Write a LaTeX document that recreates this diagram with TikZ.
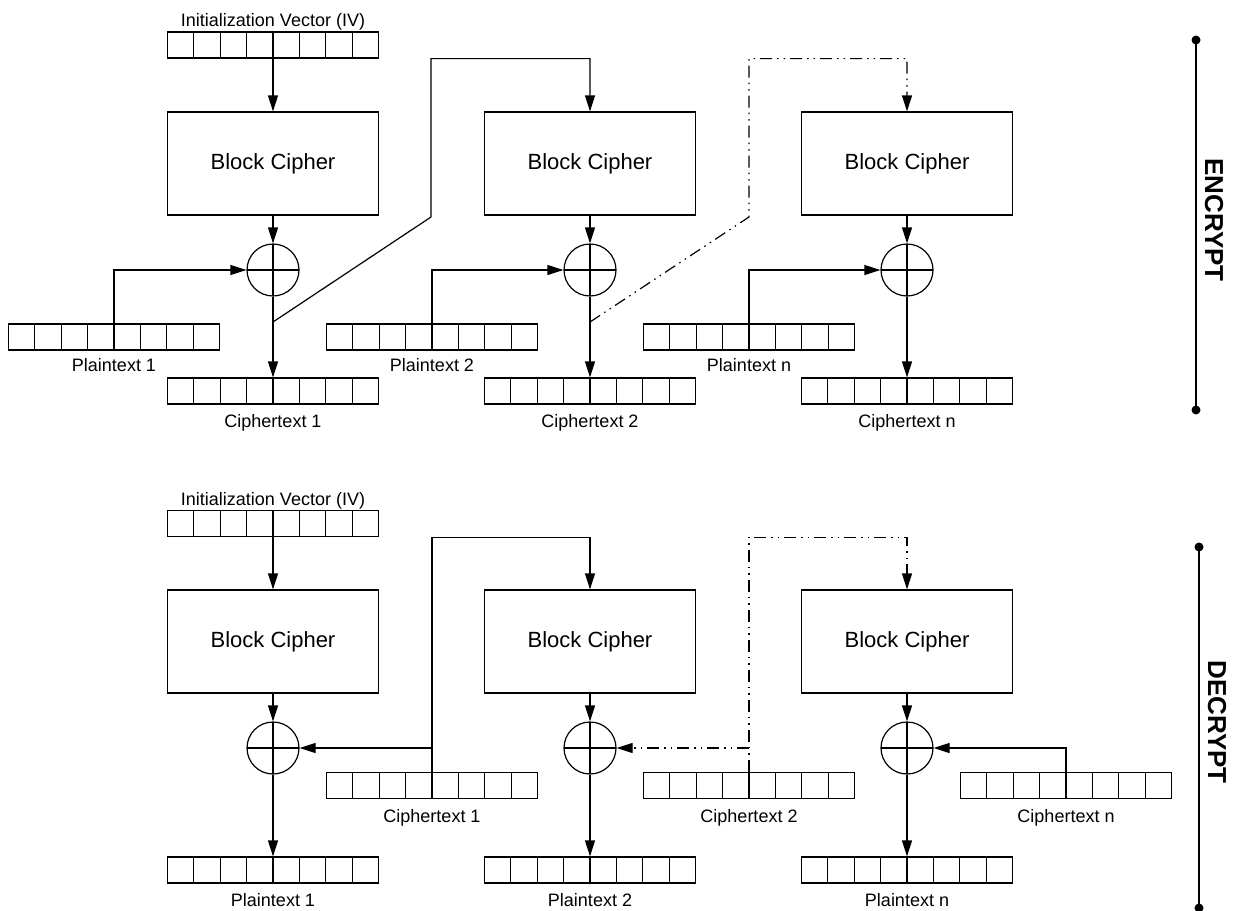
\documentclass[tikz,border=0pt]{standalone}
\usepackage{fontspec}
\setmainfont{Liberation Sans}
\usetikzlibrary{arrows.meta}

\tikzset{
  register/.style={draw, minimum width=211pt, minimum height=26pt, inner sep=0pt,
    path picture={\foreach \k in {1,...,7}
      \draw ([xshift=\k*26.375pt]path picture bounding box.north west) -- ([xshift=\k*26.375pt]path picture bounding box.south west);}},
  cipher/.style={draw, minimum width=211pt, minimum height=103pt, inner sep=0pt, font=\fontsize{22}{26}\selectfont},
  xor/.style={draw, circle, minimum size=52pt, inner sep=0pt,
    path picture={\draw (path picture bounding box.north) -- (path picture bounding box.south)
      (path picture bounding box.west) -- (path picture bounding box.east);}},
  lbl/.style={anchor=base, inner sep=0pt, font=\fontsize{18}{20}\selectfont},
  feedback/.style={dash pattern=on 12pt off 5pt on 1.5pt off 5pt on 1.5pt off 5pt},
  sidelabel/.style={inner sep=0pt, rotate=-90, font=\bfseries\fontsize{26}{28}\selectfont},
}

\begin{document}
\begin{tikzpicture}[x=1pt, y=-1pt, line width=1.2pt, >={Triangle[length=16pt,width=10pt]}]
  \useasboundingbox (0,0) rectangle (1238,910);

  % Encrypt: IV and blocks
  \node[lbl] (ivElbl) at (273,27) {Initialization Vector (IV)};
  \node[register] (ivE) at (273,45) {};
  \foreach \i/\x/\p/\t in {1/273/114/1, 2/590/432/2, 3/907/749/n} {
    \node[cipher] (bcE\i) at (\x,163.5) {Block Cipher};
    \node[xor] (xE\i) at (\x,270) {};
    \node[register] (ptE\i) at (\p,337) {};
    \node[lbl] (ptElbl\i) at (\p,371) {Plaintext \t};
    \node[register] (ctE\i) at (\x,391) {};
    \node[lbl] (ctElbl\i) at (\x,427) {Ciphertext \t};
  }
  % Encrypt: arrows
  \draw[->] (ivE) -- (bcE1);
  \foreach \i in {1,2,3} {
    \draw[->] (bcE\i) -- (xE\i);
    \draw[->] (xE\i) -- (ctE\i);
    \draw[->] (ptE\i.north) |- (xE\i.west);
  }
  % Encrypt: chaining
  \coordinate (tapE1) at (273,322);
  \coordinate (bendE1) at (431,217);
  \draw[->] (tapE1) -- (bendE1) -- (bendE1 |- ivE.south) -| (bcE2.north);
  \coordinate (tapE2) at (590,322);
  \coordinate (bendE2) at (749,217);
  \draw[->, feedback] (tapE2) -- (bendE2) -- (bendE2 |- ivE.south) -| (bcE3.north);

  % Decrypt: IV and blocks
  \node[lbl] (ivDlbl) at (273,505) {Initialization Vector (IV)};
  \node[register] (ivD) at (273,523.5) {};
  \foreach \i/\x/\c/\t in {1/273/432/1, 2/590/749/2, 3/907/1066/n} {
    \node[cipher] (bcD\i) at (\x,641.5) {Block Cipher};
    \node[xor] (xD\i) at (\x,748) {};
    \node[register] (ctD\i) at (\c,785.5) {};
    \node[lbl] (ctDlbl\i) at (\c,822) {Ciphertext \t};
    \node[register] (ptD\i) at (\x,870) {};
    \node[lbl] (ptDlbl\i) at (\x,906) {Plaintext \t};
  }
  % Decrypt: arrows
  \draw[->] (ivD) -- (bcD1);
  \foreach \i in {1,2,3} {
    \draw[->] (bcD\i) -- (xD\i);
    \draw[->] (xD\i) -- (ptD\i);
  }
  % Decrypt: chaining
  \draw[->] (ctD1.north) |- (xD1.east);
  \draw[->] (ctD1.north) -- (ctD1.north |- ivD.south) -| (bcD2.north);
  \coordinate (jD2) at (ctD2.north |- xD2.east);
  \draw[->, feedback] (ctD2.north) -- (ctD2.north |- ivD.south) -| (bcD3.north);
  \draw[->, feedback] (jD2) -- (xD2.east);
  \draw[->] (ctD3.north) |- (xD3.east);

  % Side bars
  \coordinate (encTop) at (1196,40);
  \coordinate (encBot) at (1196,410);
  \draw (encTop) -- (encBot);
  \fill (encTop) circle (4.5pt) (encBot) circle (4.5pt);
  \node[sidelabel] (encLbl) at (1214,220) {ENCRYPT};
  \coordinate (decTop) at (1199,547);
  \coordinate (decBot) at (1199,908);
  \draw (decTop) -- (decBot);
  \fill (decTop) circle (4.5pt) (decBot) circle (4.5pt);
  \node[sidelabel] (decLbl) at (1217,722) {DECRYPT};
\end{tikzpicture}
\end{document}
